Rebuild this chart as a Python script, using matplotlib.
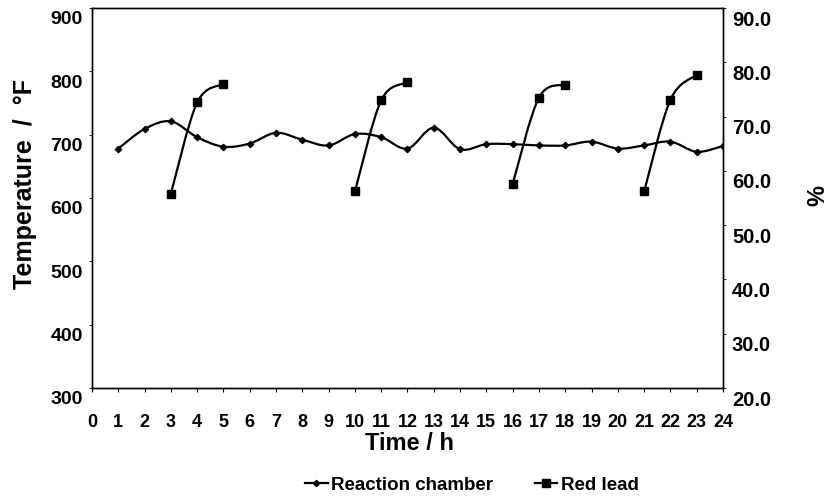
import matplotlib
matplotlib.use("Agg")
import matplotlib.pyplot as plt
import matplotlib.transforms as mtransforms
from matplotlib.path import Path
from matplotlib.patches import PathPatch
from matplotlib.lines import Line2D
import numpy as np

plt.rcParams['font.family'] = ['Liberation Sans', 'DejaVu Sans']
plt.rcParams['font.weight'] = 'bold'

# ---- data ----
hours = list(range(1, 25))
reaction_chamber = [678, 709, 721, 696, 681, 686, 703, 692, 683, 701, 696, 678,
                    711, 677, 685, 685, 683, 683, 689, 678, 683, 689, 673, 682]
red_hours = [3, 4, 5, 10, 11, 12, 16, 17, 18, 21, 22, 23]
red_lead = [55.8, 72.6, 76.0, 56.2, 73.0, 76.3, 57.6, 73.5, 75.9, 56.2, 73.1, 77.7]
x_ticks = list(range(0, 25))
left_ticks = [300, 400, 500, 600, 700, 800, 900]
right_ticks = [20, 30, 40, 50, 60, 70, 80, 90]


def smooth_path(xs, ys):
    """Catmull-Rom style Bezier through the given data points (like Excel smoothing)."""
    p = np.column_stack([xs, ys]).astype(float)
    n = len(p)
    verts = [p[0]]
    codes = [Path.MOVETO]
    for i in range(n - 1):
        p0 = p[i - 1] if i > 0 else p[i]
        p1 = p[i]
        p2 = p[i + 1]
        p3 = p[i + 2] if i + 2 < n else p[i + 1]
        c1 = p1 + (p2 - p0) / 6.0
        c2 = p2 - (p3 - p1) / 6.0
        verts += [c1, c2, p2]
        codes += [Path.CURVE4] * 3
    return Path(verts, codes)


fig = plt.figure(figsize=(8.29, 5.0), dpi=100)
ax = fig.add_axes([92 / 829, 1 - 388 / 500, (723 - 92) / 829, (388 - 8) / 500])
ax2 = ax.twinx()

# reaction chamber
ax.add_patch(PathPatch(smooth_path(hours, reaction_chamber), fill=False,
                       edgecolor='black', lw=1.6, transform=ax.transData))
ax.plot(hours, reaction_chamber, linestyle='none', marker='D', markersize=3.2,
        color='black')

# red lead, runs of consecutive hours
runs = []
cur = [0]
for i in range(1, len(red_hours)):
    if red_hours[i] == red_hours[i - 1] + 1:
        cur.append(i)
    else:
        runs.append(cur)
        cur = [i]
runs.append(cur)
for r in runs:
    xs = [red_hours[i] for i in r]
    ys = [red_lead[i] for i in r]
    ax2.add_patch(PathPatch(smooth_path(xs, ys), fill=False, edgecolor='black',
                            lw=1.6, transform=ax2.transData))
ax2.plot(red_hours, red_lead, linestyle='none', marker='s', markersize=5.5,
         color='black')

ax.set_xlim(0, 24)
ax.set_ylim(300, 900)
ax2.set_ylim(20, 90)
ax.set_xticks(x_ticks)
ax.set_yticks(left_ticks)
ax2.set_yticks(right_ticks)

for a in (ax, ax2):
    for s in a.spines.values():
        s.set_linewidth(1.0)
ax.tick_params(axis='x', direction='out', length=3, width=0.8, pad=16, labelsize=13)
ax.tick_params(axis='y', direction='out', length=2.5, width=0.6, labelleft=False)
ax2.tick_params(axis='y', direction='out', length=2.5, width=0.6, labelright=False)

# y tick labels: drawn slightly below their ticks, as in the reference
left_tr = mtransforms.blended_transform_factory(ax.transAxes, ax.transData) + \
    mtransforms.ScaledTranslation(-9 / 100, -12 / 100, fig.dpi_scale_trans)
for v in left_ticks:
    ax.text(0, v, f"{v}", transform=left_tr, ha='right', va='center',
            fontsize=14, fontweight='bold', clip_on=False)
right_tr = mtransforms.blended_transform_factory(ax2.transAxes, ax2.transData) + \
    mtransforms.ScaledTranslation(9 / 100, -12 / 100, fig.dpi_scale_trans)
for v in right_ticks:
    ax2.text(1, v, f"{v:.1f}", transform=right_tr, ha='left', va='center',
             fontsize=14.5, fontweight='bold', clip_on=False)

fig.text(410 / 829, 1 - 443 / 500, "Time / h", ha='center', va='center',
         fontsize=17, fontweight='bold')
fig.text(25 / 829, 1 - 184 / 500, "Temperature  /  °F", ha='center', va='center',
         rotation=90, fontsize=18, fontweight='bold')
fig.text(818 / 829, 1 - 195 / 500, "%", ha='center', va='center',
         rotation=90, fontsize=17, fontweight='bold')

handles = [Line2D([], [], color='black', lw=1.6, marker='D', markersize=3.2),
           Line2D([], [], color='black', lw=1.6, marker='s', markersize=5.5)]
fig.legend(handles, ["Reaction chamber", "Red lead"], loc='center',
           bbox_to_anchor=(472 / 829, 1 - 485 / 500), ncol=2, frameon=False,
           fontsize=13.5, handlelength=1.2, handletextpad=0.2, columnspacing=2.2,
           borderaxespad=0)

fig.savefig("out.png", dpi=100)
